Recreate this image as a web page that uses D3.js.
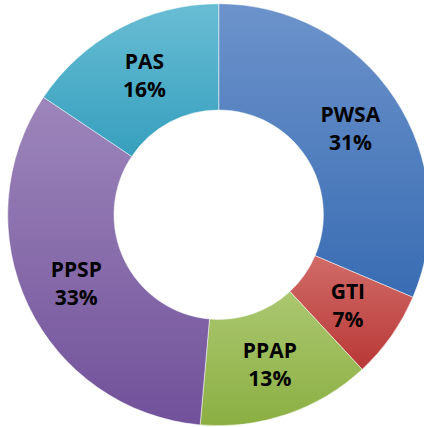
<!DOCTYPE html>
<html>
<head>
<meta charset="utf-8">
<script src="https://cdn.jsdelivr.net/npm/d3@7"></script>
<style>
  body { margin: 0; background: #fff; }
  #chart { width: 424px; height: 427px; overflow: hidden; }
</style>
</head>
<body>
<div id="chart"></div>
<script>
const categories = ['PWSA', 'GTI', 'PPAP', 'PPSP', 'PAS'];
const values = [31.4, 6.7, 13.3, 33.0, 15.6];
const topColors = ['#6c93cb', '#d16b68', '#abc770', '#9d86bb', '#68bdd4'];
const bottomColors = ['#396cb3', '#b83836', '#8baf42', '#71519a', '#369fbd'];

const w = 424;
const h = 427;
const cx = 218.7;
const cy = 214.7;
const outer = 211;
const inner = 104.7;

const svg = d3.select('#chart')
              .append('svg')
              .attr('width', w)
              .attr('height', h);

const defs = svg.append('defs');
categories.forEach((c, i) => {
  const g = defs.append('linearGradient')
                .attr('id', 'grad' + i)
                .attr('x1', 0).attr('y1', 0)
                .attr('x2', 0).attr('y2', 1);
  g.append('stop').attr('offset', '0%').attr('stop-color', topColors[i]);
  g.append('stop').attr('offset', '100%').attr('stop-color', bottomColors[i]);
});

const pie = d3.pie().sort(null).value(d => d);
const arcs = pie(values);

const arc = d3.arc().innerRadius(inner).outerRadius(outer);
const labelArc = d3.arc().innerRadius((inner + outer) / 2).outerRadius((inner + outer) / 2);

const g = svg.append('g').attr('transform', `translate(${cx},${cy})`);

g.selectAll('path')
 .data(arcs)
 .enter()
 .append('path')
 .attr('d', arc)
 .attr('fill', (d, i) => `url(#grad${i})`)
 .attr('stroke', '#fff')
 .attr('stroke-width', 0.5);

const labels = g.selectAll('.label')
  .data(arcs)
  .enter()
  .append('text')
  .attr('class', 'label')
  .attr('transform', d => `translate(${labelArc.centroid(d)})`)
  .attr('text-anchor', 'middle')
  .style('font-family', '"Open Sans", sans-serif')
  .style('font-weight', 'bold')
  .style('font-size', '21px')
  .style('fill', '#000');

labels.append('tspan')
  .attr('x', 0)
  .attr('y', -6)
  .text((d, i) => categories[i]);

labels.append('tspan')
  .attr('x', 0)
  .attr('y', 22)
  .text(d => Math.round(d.data) + '%');
</script>
</body>
</html>
